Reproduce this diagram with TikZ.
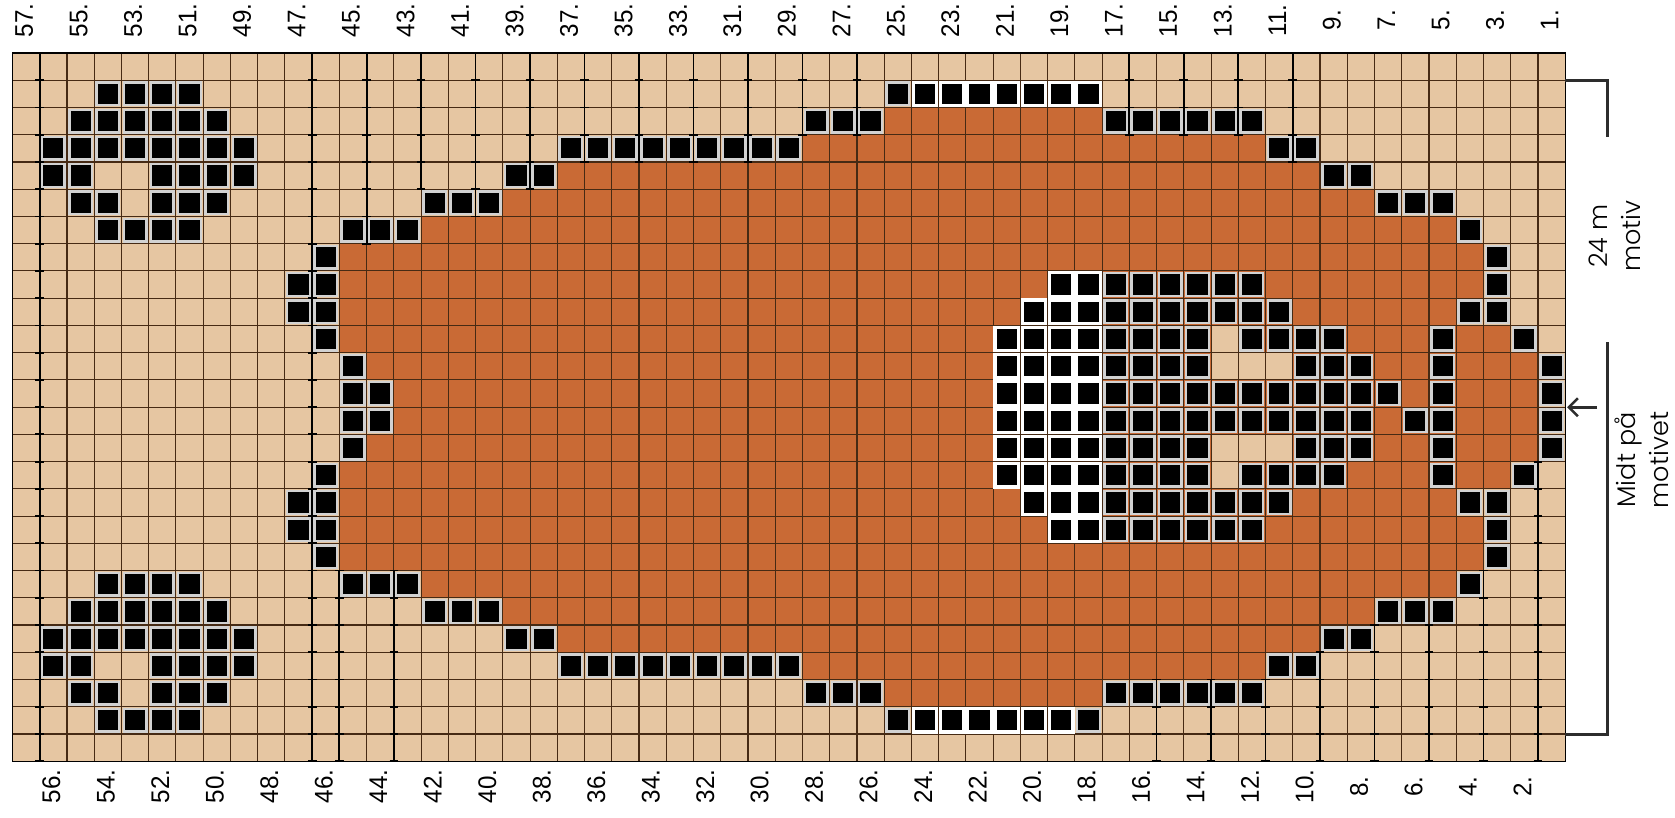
\documentclass[tikz,border=0pt]{standalone}
\usepackage{fontspec}
\setmainfont{Liberation Sans}
\newfontfamily\labfont{Poppins}[UprightFont={* Light}]
\usetikzlibrary{arrows.meta}
\definecolor{tanc}{RGB}{230,198,162}
\definecolor{rustc}{RGB}{201,106,53}
\definecolor{gridc}{RGB}{70,42,20}
\definecolor{sqgray}{RGB}{210,210,210}
\definecolor{brk}{RGB}{45,45,45}
\tikzset{
 gridline/.style={gridc, line width=1.1pt},
 rulerline/.style={black, line width=1.8pt},
 bracketline/.style={brk, line width=3pt},
 numlab/.style={rotate=90, xscale=0.95, inner sep=0pt, font=\fontsize{25.5}{25.5}\selectfont},
 sidelab/.style={rotate=90, inner sep=0pt, align=center, font=\labfont\fontsize{25.5}{33}\selectfont},
}
\newcommand\gsq[2]{%
 \fill[sqgray] ({57-#1+0.04},{#2-1+0.04}) rectangle ({58-#1-0.04},{#2-0.04});
 \fill[black] ({57-#1+0.13},{#2-1+0.13}) rectangle ({58-#1-0.13},{#2-0.13});}
\newcommand\wsq[2]{%
 \fill[white] ({57-#1+0.01},{#2-1+0.01}) rectangle ({58-#1-0.01},{#2-0.01});
 \fill[black] ({57-#1+0.13},{#2-1+0.13}) rectangle ({58-#1-0.13},{#2-0.13});}
\newcommand\rulr[3]{%
 \draw[rulerline] (#1,#2) -- (#1,#3);
 \foreach \t in {#2,...,#3} {\draw[rulerline] ({#1-0.16},\t) -- ({#1+0.16},\t);}}
\begin{document}
\begin{tikzpicture}[x=1pt,y=-1pt]
\useasboundingbox (0,0) rectangle (1675,818);
\fill[white] (0,0) rectangle (1675,818);
\begin{scope}[shift={(12.5,53)},x=27.24pt,y=-27.24pt]
 \fill[tanc] (0,0) rectangle (57,26);
 \foreach \r/\a/\b in {3/25/18,4/28/12,5/37/10,6/39/8,7/42/5,8/45/4,9/45/4,10/45/5,11/45/3,12/44/2,13/43/2,
   14/43/2,15/44/2,16/45/3,17/45/5,18/45/4,19/45/4,20/42/5,21/39/8,22/37/10,23/28/12,24/25/18}
   {\fill[rustc] ({57-\a},{\r-1}) rectangle ({58-\b},\r);}
 \foreach \c/\r in {13/11,13/12,12/12,11/12,13/15,12/15,11/15,13/16}
   {\fill[tanc] ({57-\c},{\r-1}) rectangle ({58-\c},\r);}
 \foreach \i in {0,...,57} {\draw[gridline] (\i,0) -- (\i,26);}
 \foreach \j in {0,...,26} {\draw[gridline] (0,\j) -- (57,\j);}
 \draw[black, line width=1.4pt] (0,0) rectangle (57,26);
 \foreach \r/\cs in {
  2/{25,54,53,52,51},
  3/{28,27,26,17,16,15,14,13,12,55,54,53,52,51,50},
  4/{37,36,35,34,33,32,31,30,29,11,10,56,55,54,53,52,51,50,49},
  5/{39,38,9,8,56,55,52,51,50,49},
  6/{42,41,40,7,6,5,55,54,52,51,50},
  7/{45,44,43,4,54,53,52,51},
  8/{46,3},
  9/{47,46,17,16,15,14,13,12,3},
  10/{47,46,17,16,15,14,13,12,11,4,3},
  11/{46,17,16,15,14,12,11,10,9,5,2},
  12/{45,17,16,15,14,10,9,8,5,1},
  13/{45,44,17,16,15,14,13,12,11,10,9,8,7,5,1},
  14/{45,44,17,16,15,14,13,12,11,10,9,8,6,5,1},
  15/{45,17,16,15,14,10,9,8,5,1},
  16/{46,17,16,15,14,12,11,10,9,5,2},
  17/{47,46,17,16,15,14,13,12,11,4,3},
  18/{47,46,17,16,15,14,13,12,3},
  19/{46,3},
  20/{45,44,43,4,54,53,52,51},
  21/{42,41,40,7,6,5,55,54,53,52,51,50},
  22/{39,38,9,8,56,55,54,53,52,51,50,49},
  23/{37,36,35,34,33,32,31,30,29,11,10,56,55,52,51,50,49},
  24/{28,27,26,17,16,15,14,13,12,55,54,52,51,50},
  25/{25,18,54,53,52,51}}
  {\foreach \c in \cs {\gsq{\c}{\r}}}
 \foreach \r/\cs in {
  2/{24,23,22,21,20,19,18},
  9/{19,18},
  10/{20,19,18},
  11/{21,20,19,18},
  12/{21,20,19,18},
  13/{21,20,19,18},
  14/{21,20,19,18},
  15/{21,20,19,18},
  16/{21,20,19,18},
  17/{20,19,18},
  18/{19,18},
  25/{24,23,22,21,20,19}}
  {\foreach \c in \cs {\wsq{\c}{\r}}}
 % rulers
 \rulr{1}{0}{26}
 \rulr{11}{0}{26}
 \rulr{13}{0}{7}
 \rulr{15}{0}{5}
 \rulr{17}{0}{6}
 \rulr{19}{0}{5}
 \foreach \k in {21,23,25,27} {\rulr{\k}{0}{4}}
 \rulr{29}{0}{3}
 \rulr{31}{0}{3}
 \foreach \k in {41,43,45} {\rulr{\k}{0}{3}}
 \rulr{47}{0}{4}
 \rulr{12}{26}{19}
 \rulr{14}{26}{19}
 \foreach \k in {42,44,46} {\rulr{\k}{26}{23}}
 \rulr{48}{26}{22}
 \rulr{50}{26}{21}
 \rulr{52}{26}{21}
 \rulr{54}{26}{19}
 \rulr{56}{26}{15}
 % labels
 \foreach \c in {57,55,...,1}
   {\node[numlab] (t\c) at ({57-\c+0.43},-1.2) {\c.};}
 \foreach \c in {56,54,...,2}
   {\node[numlab] (b\c) at ({57-\c+0.43},26.93) {\c.};}
\end{scope}
% bracket and notes
\coordinate (brA) at (1565,80.25);
\coordinate (brB) at (1607,80.25);
\coordinate (brC) at (1607,137);
\coordinate (brD) at (1607,342);
\coordinate (brE) at (1607,734.5);
\coordinate (brF) at (1565,734.5);
\draw[bracketline] (brA) -- (brB) -- (brC);
\draw[bracketline] (brD) -- (brE) -- (brF);
\coordinate (arS) at (1597,407.25);
\coordinate (arT) at (1567,407.25);
\draw[brk, line width=2.6pt, -{Straight Barb[length=9pt,width=18pt]}] (arS) -- (arT);
\node[sidelab] (motiv) at (1615,236) {24 m\\motiv};
\node[sidelab] (midt) at (1642,460) {Midt på\\motivet};
\end{tikzpicture}
\end{document}
